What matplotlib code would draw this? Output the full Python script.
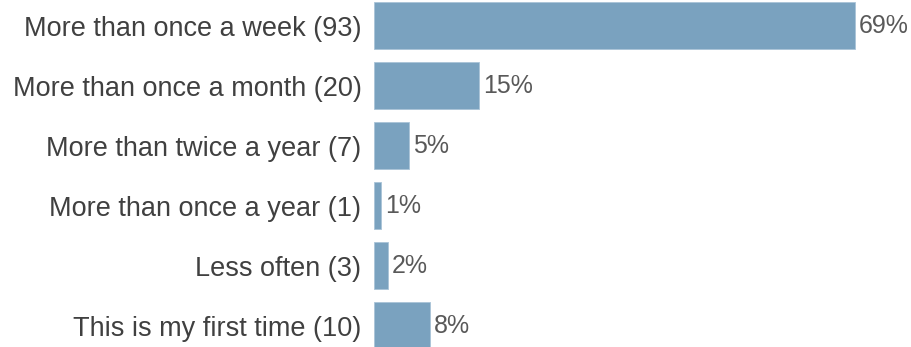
import numpy as np
import matplotlib.pyplot as plt

plt.rcParams['font.family'] = ['Liberation Sans', 'DejaVu Sans']

answers = ['More than once a week', 'More than once a month', 'More than twice a year',
           'More than once a year', 'Less often', 'This is my first time']
counts = [93, 20, 7, 1, 3, 10]
# share of respondents, in percent (rounded so they add up to 100)
pct = [69, 15, 5, 1, 2, 8]

labels = [f'{a} ({c})' for a, c in zip(answers, counts)]
y = np.arange(len(answers))

fig = plt.figure(figsize=(9.12, 3.47), dpi=100)
ax = fig.add_axes([374 / 912, 0, 538 / 912, 1])

ax.barh(y, pct, height=0.78, color='#7aa2bf', edgecolor='#a9c4d8', linewidth=0.6)
for yi, p in zip(y, pct):
    ax.annotate(f'{p}%', (p, yi), xytext=(3, 0), textcoords='offset points',
                va='center', ha='left', fontsize=18, color='#595959')

ax.set_yticks(y)
ax.set_yticklabels(labels, fontsize=19.5, color='#404040')
ax.tick_params(axis='y', length=0, pad=9)
ax.set_xticks([])
ax.set_xlim(0, 77.2)
ax.set_ylim(5.358, -0.425)
for s in ax.spines.values():
    s.set_visible(False)

fig.savefig('out.png', dpi=100)
